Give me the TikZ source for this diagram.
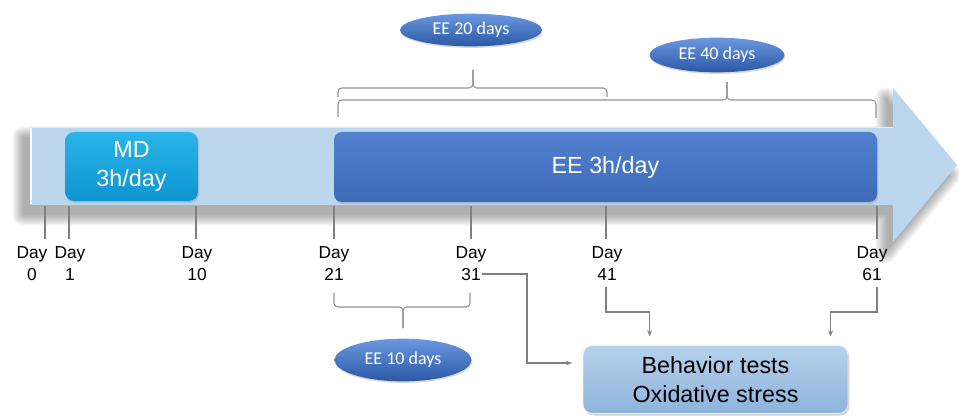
\documentclass[tikz,border=0pt]{standalone}
\usepackage{fontspec}
\setmainfont{Liberation Sans}
\newfontfamily\calfont{Carlito}
\usetikzlibrary{arrows.meta,shapes.geometric,shadows,calc}
\definecolor{bodyblue}{HTML}{BCD6EE}
\definecolor{mdtop}{HTML}{2BB4E8}
\definecolor{mdbot}{HTML}{0C95D0}
\definecolor{eetop}{HTML}{5281D0}
\definecolor{eebot}{HTML}{3D69B8}
\definecolor{bttop}{HTML}{B7D1EB}
\definecolor{btbot}{HTML}{8EB3DC}
\definecolor{eltop}{HTML}{6B98DE}
\definecolor{elbot}{HTML}{2B58A6}
\definecolor{linegray}{HTML}{808080}
\tikzset{
  bigtext/.style={font=\fontsize{17.5}{22}\selectfont},
  mdbox/.style={rounded corners=7pt, top color=mdtop, bottom color=mdbot, text=white, bigtext, align=center,
     minimum width=99.75pt, minimum height=51.75pt, inner sep=0pt,
     drop shadow={opacity=0.3, shadow xshift=0.8pt, shadow yshift=-1.5pt}},
  eebox/.style={rounded corners=6pt, top color=eetop, bottom color=eebot, text=white, bigtext, align=center,
     minimum width=407.25pt, minimum height=52.5pt, inner sep=0pt,
     drop shadow={opacity=0.3, shadow xshift=0.8pt, shadow yshift=-1.5pt}},
  btbox/.style={rounded corners=7pt, top color=bttop, bottom color=btbot, draw=white!70!bttop, line width=0.6pt,
     text=black, bigtext, align=center,
     minimum width=198.75pt, minimum height=51pt, inner sep=0pt,
     drop shadow={opacity=0.35, shadow xshift=1pt, shadow yshift=-1.5pt}},
  ellip/.style={ellipse, top color=eltop, bottom color=elbot, text=white, inner sep=0pt,
     font=\calfont\fontsize{13.5}{15}\selectfont,
     drop shadow={opacity=0.3, shadow xshift=0.6pt, shadow yshift=-1.2pt}},
  daylabel/.style={font=\fontsize{13}{16.5}\selectfont, align=center, inner sep=0pt},
  tick/.style={draw=linegray, line width=0.8pt},
  brace/.style={draw=linegray!85!white, line width=0.8pt, rounded corners=3pt},
  conn/.style={draw=linegray, line width=0.8pt, -{Stealth[length=4.5pt,width=3.6pt]}},
}
\begin{document}
\begin{tikzpicture}[x=0.75pt,y=-0.75pt]
\useasboundingbox[fill=white] (0,0) rectangle (959,416);

% soft shadow of the big arrow
\begin{scope}[shift={(-7,10)}]
  \foreach \r in {0,1.5,3,4.5,6,7.5,9,10.5} {
    \begin{scope}[transparency group, opacity=0.045]
      \draw[black, fill=black, line width=2*\r*0.75pt+0.01pt, line join=round]
        (30,127) -- (893,127) -- (893,88) -- (957,165) -- (893,242) -- (893,205) -- (30,205) -- cycle;
    \end{scope}
  }
\end{scope}
% big arrow
\fill[bodyblue] (30,127) -- (893,127) -- (893,88) -- (957,165) -- (893,242) -- (893,205) -- (30,205) -- cycle;
\draw[white, line width=1.5pt] (30.5,128) -- (30.5,204);
\draw[white!60!bodyblue, line width=1pt] (30,127.5) -- (893,127.5);

% boxes
\node[mdbox] (md) at (131.5,166.5) {MD\\3h/day};
\node[eebox] (ee) at (605.5,167) {EE 3h/day};
\node[btbox] (bt) at (715.5,379.5) {Behavior tests\\Oxidative stress};

% ticks
\foreach \x in {45,69,196,334,471,606,877} {
  \draw[tick] (\x,206) -- (\x,239);
}

% day labels
\node[daylabel] (d0) at (32,264) {Day\\0};
\node[daylabel] (d1) at (70,264) {Day\\1};
\node[daylabel] (d10) at (197,264) {Day\\10};
\node[daylabel] (d21) at (334,264) {Day\\21};
\node[daylabel] (d31) at (471,264) {Day\\31};
\node[daylabel] (d41) at (607,264) {Day\\41};
\node[daylabel] (d61) at (872,264) {Day\\61};

% ellipses
\node[ellip, minimum width=106.5pt, minimum height=24.5pt] (e20) at (471,30) {EE 20 days};
\node[ellip, minimum width=101.25pt, minimum height=26pt] (e40) at (717,55) {EE 40 days};
\node[ellip, minimum width=102.75pt, minimum height=32pt] (e10) at (403,360) {EE 10 days};

% braces
\draw[brace] (338,97) |- (473,88) -- (473,70);
\draw[brace] (607,97) |- (473,88) -- (473,70);
\draw[brace] (338,117) |- (727,100) -- (727,82);
\draw[brace] (876,118) |- (727,100) -- (727,82);
\draw[brace] (334,293) |- (403,307) -- (403,328);
\draw[brace] (470,293) |- (403,307) -- (403,328);

% connectors
\coordinate (c31) at (482,274);
\coordinate (c41) at (606,287);
\coordinate (c61) at (877,287);
\draw[conn, shorten >=8pt] (c31) -- (527,274) |- ($(bt.west)+(0,-16.5)$);
\draw[conn, shorten >=6.5pt] (c41) -- (606,312) -| ($(bt.north west)+(67,0)$);
\draw[conn, shorten >=6.5pt] (c61) -- (877,312) -| ($(bt.north west)+(248,0)$);
\end{tikzpicture}
\end{document}
